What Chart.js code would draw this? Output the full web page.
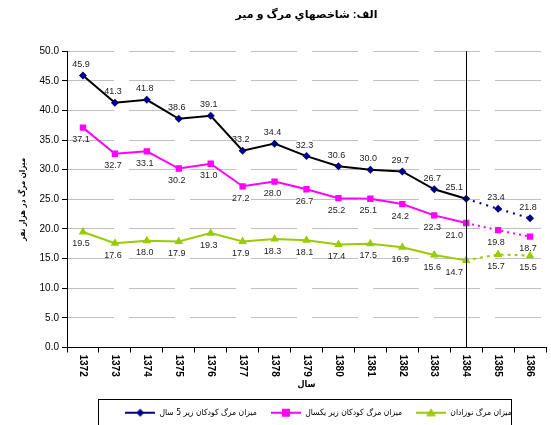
<!DOCTYPE html>
<html>
<head>
<meta charset="utf-8">
<script src="https://cdn.jsdelivr.net/npm/chart.js@4"></script>
<style>
  html, body { margin: 0; padding: 0; background: #fff; overflow: hidden; }
  #wrap { width: 551px; height: 440px; }
</style>
</head>
<body>
<div id="wrap"><canvas id="myChart"></canvas></div>
<script>
const years = ['1372', '1373', '1374', '1375', '1376', '1377', '1378', '1379', '1380', '1381', '1382', '1383', '1384', '1385', '1386'];
const under5 = [45.9, 41.3, 41.8, 38.6, 39.1, 33.2, 34.4, 32.3, 30.6, 30.0, 29.7, 26.7, 25.1, 23.4, 21.8];
const under1 = [37.1, 32.7, 33.1, 30.2, 31.0, 27.2, 28.0, 26.7, 25.2, 25.1, 24.2, 22.3, 21.0, 19.8, 18.7];
const neonatal = [19.5, 17.6, 18.0, 17.9, 19.3, 17.9, 18.3, 18.1, 17.4, 17.5, 16.9, 15.6, 14.7, 15.7, 15.5];
const lastActual = 12; // 1384, after this values are projected

const FONT = "'Liberation Sans', 'DejaVu Sans', sans-serif";
const AR_FONT = "'DejaVu Sans Condensed', 'DejaVu Sans', sans-serif";

// small line+marker pictures for the legend
function legendSymbol(lineColor, markColor, shape) {
  const c = document.createElement('canvas');
  c.width = 30; c.height = 12;
  const g = c.getContext('2d');
  g.strokeStyle = lineColor; g.lineWidth = 2;
  g.beginPath(); g.moveTo(0, 6); g.lineTo(30, 6); g.stroke();
  g.fillStyle = markColor;
  g.beginPath();
  if (shape === 'diamond') {
    g.moveTo(15, 2); g.lineTo(19, 6); g.lineTo(15, 10); g.lineTo(11, 6);
  } else if (shape === 'square') {
    g.rect(11, 2, 8, 8);
  } else {
    g.moveTo(15, 1.5); g.lineTo(20, 9.5); g.lineTo(10, 9.5);
  }
  g.closePath(); g.fill();
  return c;
}

const dotted = (dash, color) => ({
  borderDash: c => c.p0DataIndex >= lastActual ? dash : undefined,
  borderColor: c => c.p0DataIndex >= lastActual ? color : undefined
});

const extras = {
  id: 'extras',
  afterLayout(chart) {
    // legend sits a bit right of centre in the original
    chart.legend.left += 12;
    chart.legend.right += 12;
  },
  afterDatasetsDraw(chart) {
    const ctx = chart.ctx;
    const x = chart.scales.x;
    const area = chart.chartArea;
    // separator at 1384
    const xl = Math.round(x.getPixelForValue(lastActual)) + 0.5;
    ctx.save();
    ctx.strokeStyle = '#000';
    ctx.lineWidth = 1;
    ctx.beginPath(); ctx.moveTo(xl, area.top); ctx.lineTo(xl, area.bottom); ctx.stroke();
    // value labels
    ctx.font = '9px ' + FONT;
    ctx.fillStyle = '#222';
    ctx.textAlign = 'center';
    ctx.textBaseline = 'middle';
    chart.data.datasets.forEach((ds, di) => {
      const meta = chart.getDatasetMeta(di);
      meta.data.forEach((pt, i) => {
        const dy = di === 0 ? -11 : 12;
        const dx = i === lastActual ? -12 : -2;
        ctx.fillText(ds.data[i].toFixed(1), pt.x + dx, pt.y + dy);
      });
    });
    ctx.restore();
  },
  afterDraw(chart) {
    const ctx = chart.ctx;
    const x = chart.scales.x;
    // vertical year labels, reading downward
    ctx.save();
    ctx.font = 'bold 10px ' + FONT;
    ctx.fillStyle = '#000';
    ctx.textAlign = 'left';
    ctx.textBaseline = 'middle';
    years.forEach((y, i) => {
      ctx.save();
      ctx.translate(x.getPixelForValue(i), x.top + 7);
      ctx.rotate(Math.PI / 2);
      ctx.fillText(y, 0, 0);
      ctx.restore();
    });
    // legend frame
    const lg = chart.legend;
    if (lg && lg.legendHitBoxes.length) {
      const boxes = lg.legendHitBoxes;
      const l = Math.min(...boxes.map(b => b.left)) - 27;
      const r = Math.max(...boxes.map(b => b.left + b.width)) - 1;
      ctx.strokeStyle = '#000';
      ctx.lineWidth = 1;
      ctx.strokeRect(Math.round(l) + 0.5, 399.5, Math.round(r - l), 40);
    }
    ctx.restore();
  }
};

new Chart(document.getElementById('myChart'), {
  type: 'line',
  data: {
    labels: years,
    datasets: [
      {
        label: 'میزان مرگ کودکان زیر 5 سال',
        data: under5,
        borderColor: '#000000',
        backgroundColor: '#000080',
        borderWidth: 2,
        pointStyle: 'rectRot',
        pointRadius: 4,
        pointBorderWidth: 0,
        segment: dotted([2, 5], '#000080')
      },
      {
        label: 'میزان مرگ کودکان زیر یکسال',
        data: under1,
        borderColor: '#ff00ff',
        backgroundColor: '#ff00ff',
        borderWidth: 2,
        pointStyle: 'rect',
        pointRadius: 4.5,
        pointBorderWidth: 0,
        segment: dotted([2, 4], '#ff00ff')
      },
      {
        label: 'میزان مرگ نوزادان',
        data: neonatal,
        borderColor: '#99cc00',
        backgroundColor: '#99cc00',
        borderWidth: 2,
        pointStyle: 'triangle',
        pointRadius: 5,
        pointBorderWidth: 0,
        segment: dotted([3, 4], '#99cc00')
      }
    ]
  },
  options: {
    responsive: true,
    maintainAspectRatio: false,
    animation: false,
    layout: { padding: { top: 0, right: -8, bottom: 13, left: 0 } },
    elements: { line: { tension: 0 } },
    plugins: {
      title: {
        display: true,
        text: 'الف: شاخصهاي مرگ و مير',
        fullSize: false,
        color: '#000',
        font: { family: FONT, size: 11, weight: 'bold' },
        padding: { top: 8, bottom: 30 }
      },
      legend: {
        position: 'bottom',
        fullSize: false,
        labels: {
          usePointStyle: true,
          pointStyleWidth: 30,
          boxHeight: 10,
          padding: 14,
          color: '#000',
          font: { family: AR_FONT, size: 8.5 },
          generateLabels: chart => {
            const shapes = ['diamond', 'square', 'triangle'];
            const lines = ['#000080', '#ff00ff', '#99cc00'];
            return chart.data.datasets.map((ds, i) => ({
              text: ds.label,
              datasetIndex: i,
              pointStyle: legendSymbol(lines[i], ds.backgroundColor, shapes[i]),
              fillStyle: ds.backgroundColor,
              strokeStyle: ds.backgroundColor,
              lineWidth: 0,
              hidden: false
            }));
          }
        }
      },
      tooltip: { enabled: false }
    },
    scales: {
      x: {
        offset: true,
        grid: {
          offset: true,
          drawOnChartArea: false,
          tickLength: 5,
          tickColor: '#000'
        },
        border: { color: '#000', width: 1 },
        ticks: { display: false },
        title: {
          display: true,
          text: 'سال',
          color: '#000',
          font: { family: AR_FONT, size: 9, weight: 'bold' },
          padding: { top: 0, bottom: 4 }
        },
        afterFit: s => { s.height = 47; }
      },
      y: {
        min: 0,
        max: 50,
        ticks: {
          stepSize: 5,
          color: '#000',
          padding: 3,
          font: { family: FONT, size: 10 },
          callback: v => v.toFixed(1)
        },
        grid: {
          color: c => c.tick.value === 0 ? 'rgba(0,0,0,0)' : '#c0c0c0',
          tickColor: '#000',
          tickLength: 5,
          tickBorderDash: [],
          lineWidth: 1
        },
        border: { color: '#000', width: 1, dash: [46, 15] },
        title: {
          display: true,
          text: 'میزان مرگ در هزار نفر',
          color: '#000',
          font: { family: AR_FONT, size: 8, weight: 'bold' },
          padding: { top: 18, bottom: 0 }
        },
        afterFit: s => { s.width = 67; }
      }
    }
  },
  plugins: [extras]
});
</script>
</body>
</html>
